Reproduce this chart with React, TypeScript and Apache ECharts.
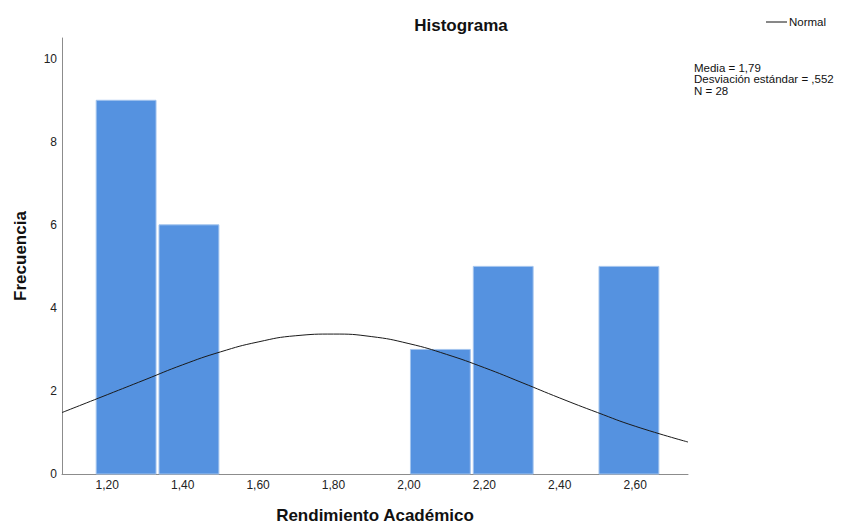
import React, { useEffect, useRef } from "react";
import * as echarts from "echarts";

// Histogram bins (Rendimiento Académico)
const binStarts = [1.1667, 1.3333, 2.0, 2.1667, 2.5];
const binEnds = [1.3333, 1.5, 2.1667, 2.3333, 2.6667];
const frequencies = [9, 6, 3, 5, 5];

// Axis ticks
const xTickValues = [1.2, 1.4, 1.6, 1.8, 2.0, 2.2, 2.4, 2.6];
const yTickValues = [0, 2, 4, 6, 8, 10];

// Normal curve
const normalX = [1.08, 1.2, 1.3, 1.4, 1.5, 1.6, 1.7, 1.8, 1.9, 2.0, 2.1, 2.2, 2.3, 2.4, 2.5, 2.6, 2.74];
const normalY = [1.48, 1.91, 2.27, 2.63, 2.94, 3.18, 3.33, 3.37, 3.31, 3.14, 2.88, 2.56, 2.2, 1.83, 1.48, 1.15, 0.77];

const statsLines = ["Media = 1,79", "Desviación estándar = ,552", "N = 28"];

const FONT = "'Liberation Sans', Arial, sans-serif";

export default function App() {
  const ref = useRef<HTMLDivElement>(null);

  useEffect(() => {
    document.body.style.margin = "0";
    if (!ref.current) return;
    const chart = echarts.init(ref.current, null, { renderer: "svg" });

    const histData = binStarts.map((s, i) => [s, binEnds[i], frequencies[i]]);
    const curveData = normalX.map((x, i) => [x, normalY[i]]);

    chart.setOption({
      animation: false,
      backgroundColor: "#ffffff",
      textStyle: { fontFamily: FONT },
      title: {
        text: "Histograma",
        left: 456,
        top: 12,
        textAlign: "center",
        textStyle: { fontSize: 17, fontWeight: "bold", color: "#111", fontFamily: FONT },
      },
      grid: { left: 62, right: 153, top: 38, bottom: 51, containLabel: false },
      xAxis: {
        type: "value",
        min: 1.08,
        max: 2.74,
        name: "Rendimiento Académico",
        nameLocation: "middle",
        nameGap: 33,
        nameTextStyle: { fontSize: 17, fontWeight: "bold", color: "#111", fontFamily: FONT },
        axisLine: { show: true, lineStyle: { color: "#8c8c8c", width: 1 } },
        axisTick: { show: false },
        splitLine: { show: false },
        axisLabel: {
          customValues: xTickValues,
          fontSize: 12,
          color: "#222",
          margin: 5,
          formatter: (v: number) => v.toFixed(2).replace(".", ","),
        },
      },
      yAxis: {
        type: "value",
        min: 0,
        max: 10.5,
        name: "Frecuencia",
        nameLocation: "middle",
        nameGap: 33,
        nameTextStyle: { fontSize: 17, fontWeight: "bold", color: "#111", fontFamily: FONT },
        axisLine: { show: true, lineStyle: { color: "#8c8c8c", width: 1 } },
        axisTick: { show: false },
        splitLine: { show: false },
        axisLabel: {
          customValues: yTickValues,
          fontSize: 12,
          color: "#222",
          margin: 5,
          formatter: (v: number) => String(v),
        },
      },
      series: [
        {
          type: "custom",
          data: histData,
          encode: { x: [0, 1], y: 2 },
          renderItem: (params: any, api: any) => {
            const s = api.coord([api.value(0), 0]);
            const e = api.coord([api.value(1), api.value(2)]);
            return {
              type: "rect",
              shape: { x: s[0] + 1.5, y: e[1], width: e[0] - s[0] - 3, height: s[1] - e[1] },
              style: { fill: "#5592E0", stroke: "#A3C4EE", lineWidth: 1 },
            };
          },
          z: 1,
        },
        {
          type: "line",
          name: "Normal",
          data: curveData,
          smooth: true,
          showSymbol: false,
          symbol: "none",
          lineStyle: { color: "#1a1a1a", width: 1 },
          z: 3,
        },
      ],
      graphic: [
        {
          type: "line",
          shape: { x1: 766, y1: 22, x2: 787, y2: 22 },
          style: { stroke: "#111", lineWidth: 1 },
        },
        {
          type: "text",
          x: 789,
          y: 22,
          style: { text: "Normal", fontSize: 11.5, fill: "#111", fontFamily: FONT, textVerticalAlign: "middle" },
        },
        {
          type: "text",
          x: 694,
          y: 62,
          style: {
            text: statsLines.join("\n"),
            fontSize: 11.5,
            lineHeight: 11.5,
            fill: "#111",
            fontFamily: FONT,
          },
        },
      ],
    });

    return () => chart.dispose();
  }, []);

  return <div ref={ref} style={{ width: 841, height: 529 }} />;
}
